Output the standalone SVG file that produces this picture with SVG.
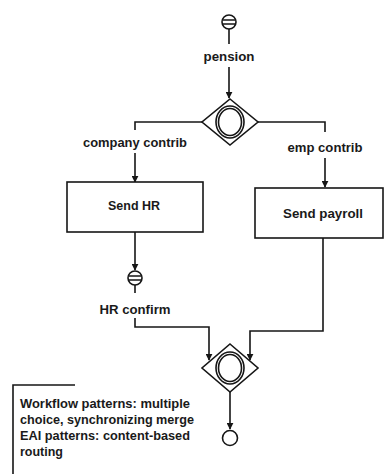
<svg xmlns="http://www.w3.org/2000/svg" width="385" height="474" viewBox="0 0 385 474">
<style>
.ln{fill:none;stroke:#161616;stroke-width:1.6}
.bx{fill:#fff;stroke:#161616;stroke-width:1.6}
.t{font-family:"Liberation Sans",Arial,sans-serif;font-size:13px;font-weight:bold;fill:#1a1a1a;text-anchor:middle}
.n{font-family:"Liberation Sans",Arial,sans-serif;font-size:12.5px;font-weight:bold;fill:#1a1a1a}
</style>
<defs>
<marker id="ah" viewBox="0 0 10 10" refX="9" refY="5" markerWidth="7" markerHeight="7" markerUnits="userSpaceOnUse" orient="auto">
<path d="M0,0 L10,5 L0,10 z" fill="#161616"/>
</marker>
</defs>
<rect width="385" height="474" fill="#fff"/>

<g id="connectors">
<path class="ln" d="M229,29 V44"/>
<path class="ln" d="M229,67 V98" marker-end="url(#ah)"/>
<path class="ln" d="M202,122 H135 V130"/>
<path class="ln" d="M135,153 V182" marker-end="url(#ah)"/>
<path class="ln" d="M258,122 H325 V132"/>
<path class="ln" d="M325,158 V187" marker-end="url(#ah)"/>
<path class="ln" d="M135,232 V270" marker-end="url(#ah)"/>
<path class="ln" d="M135,285 V293"/>
<path class="ln" d="M135,318 V327 H209 V360" marker-end="url(#ah)"/>
<path class="ln" d="M323,238 V331 H250 V360" marker-end="url(#ah)"/>
<path class="ln" d="M230,392 V429" marker-end="url(#ah)"/>
</g>

<g id="pension">
<circle cx="229" cy="22" r="7" class="ln" stroke-width="2.2"/>
<path class="ln" d="M222.5,20 H235.5 M222.5,24 H235.5" stroke-width="1.8"/>
<text class="t" x="229" y="61" textLength="51" lengthAdjust="spacingAndGlyphs">pension</text>
</g>

<g id="split">
<path class="ln" d="M230,99 L258,122 L230,145 L202,122 Z"/>
<ellipse cx="230" cy="122" rx="14" ry="16" class="ln" stroke-width="1.8"/>
<ellipse cx="230" cy="122" rx="11.5" ry="13.5" class="ln" stroke-width="1.4"/>
</g>

<g id="label-company">
<text class="t" x="135" y="147" textLength="104" lengthAdjust="spacingAndGlyphs">company contrib</text>
</g>
<g id="label-emp">
<text class="t" x="325" y="152" textLength="75" lengthAdjust="spacingAndGlyphs">emp contrib</text>
</g>

<g id="send-hr">
<rect class="bx" x="67" y="182" width="136" height="50"/>
<text class="t" x="134" y="210" textLength="52" lengthAdjust="spacingAndGlyphs">Send HR</text>
</g>

<g id="send-payroll">
<rect class="bx" x="255" y="188" width="128" height="50"/>
<text class="t" x="323" y="218" textLength="80" lengthAdjust="spacingAndGlyphs">Send payroll</text>
</g>

<g id="hr-confirm">
<circle cx="135" cy="278" r="7" class="ln" stroke-width="2.2"/>
<path class="ln" d="M128.5,276 H141.5 M128.5,280 H141.5" stroke-width="1.8"/>
<text class="t" x="135" y="314" textLength="71" lengthAdjust="spacingAndGlyphs">HR confirm</text>
</g>

<g id="merge">
<path class="ln" d="M230,344 L258,368 L230,392 L202,368 Z"/>
<ellipse cx="230" cy="368" rx="14" ry="16" class="ln" stroke-width="1.8"/>
<ellipse cx="230" cy="368" rx="11.5" ry="13.5" class="ln" stroke-width="1.4"/>
</g>

<g id="end">
<circle cx="230" cy="438" r="7.5" class="ln" stroke-width="2"/>
</g>

<g id="note">
<path class="ln" d="M75,385 H13 V474"/>
<text class="n" x="20" y="408" textLength="170" lengthAdjust="spacingAndGlyphs">Workflow patterns: multiple</text>
<text class="n" x="20" y="424" textLength="174" lengthAdjust="spacingAndGlyphs">choice, synchronizing merge</text>
<text class="n" x="20" y="440" textLength="170" lengthAdjust="spacingAndGlyphs">EAI patterns: content-based</text>
<text class="n" x="20" y="456" textLength="43" lengthAdjust="spacingAndGlyphs">routing</text>
</g>
</svg>
